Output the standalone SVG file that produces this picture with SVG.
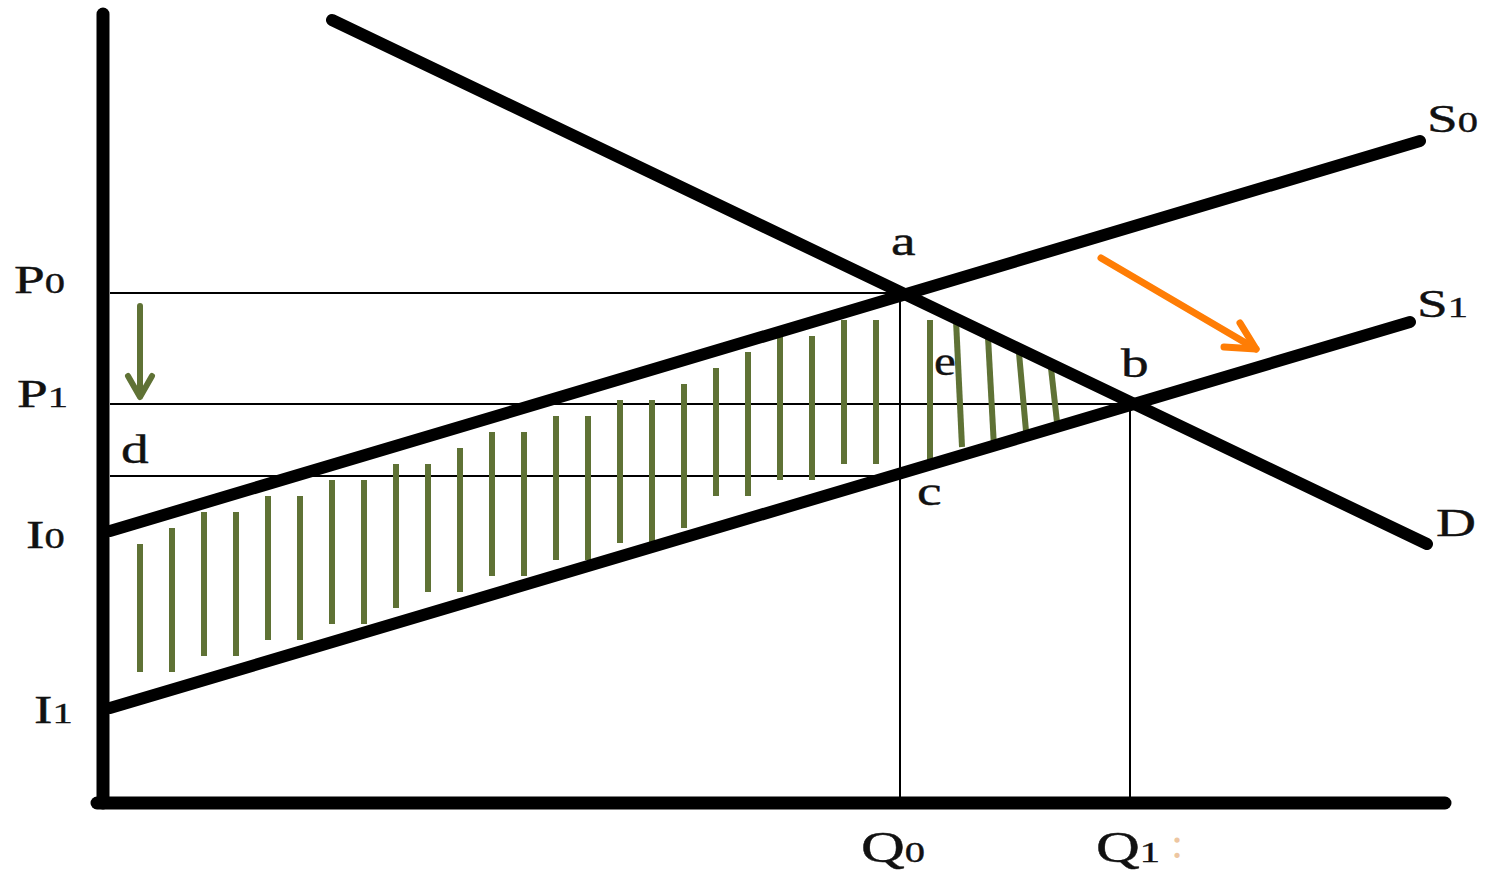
<svg xmlns="http://www.w3.org/2000/svg" width="1487" height="870" viewBox="0 0 1487 870">
<style>
.axis{stroke:#000;stroke-width:13;stroke-linecap:round;fill:none}
.curve{stroke:#000;stroke-width:12;stroke-linecap:round;fill:none}
.thin{stroke:#000;stroke-width:2;fill:none}
.hatch{stroke:#5f7235;stroke-width:6;fill:none}
.lbl{font-family:"Liberation Serif","Times New Roman",serif;font-size:41px;fill:#111;stroke:#111;stroke-width:0.4}
.sub{font-size:30px}
.big{font-size:45px}
</style>
<rect width="1487" height="870" fill="#fff"/>
<g id="guides">
<line class="thin" x1="110" y1="293" x2="900" y2="293"/>
<line class="thin" x1="110" y1="404" x2="1130" y2="404"/>
<line class="thin" x1="110" y1="476" x2="900" y2="476"/>
<line class="thin" x1="900" y1="293" x2="900" y2="803"/>
<line class="thin" x1="1130" y1="404" x2="1130" y2="803"/>
</g>
<g id="hatching">
<line class="hatch" x1="140" y1="544" x2="140" y2="672"/>
<line class="hatch" x1="172" y1="528" x2="172" y2="672"/>
<line class="hatch" x1="204" y1="512" x2="204" y2="656"/>
<line class="hatch" x1="236" y1="512" x2="236" y2="656"/>
<line class="hatch" x1="268" y1="496" x2="268" y2="640"/>
<line class="hatch" x1="300" y1="496" x2="300" y2="640"/>
<line class="hatch" x1="332" y1="480" x2="332" y2="624"/>
<line class="hatch" x1="364" y1="480" x2="364" y2="624"/>
<line class="hatch" x1="396" y1="464" x2="396" y2="608"/>
<line class="hatch" x1="428" y1="464" x2="428" y2="592"/>
<line class="hatch" x1="460" y1="448" x2="460" y2="592"/>
<line class="hatch" x1="492" y1="432" x2="492" y2="576"/>
<line class="hatch" x1="524" y1="432" x2="524" y2="576"/>
<line class="hatch" x1="556" y1="416" x2="556" y2="560"/>
<line class="hatch" x1="588" y1="416" x2="588" y2="560"/>
<line class="hatch" x1="620" y1="400" x2="620" y2="543"/>
<line class="hatch" x1="652" y1="400" x2="652" y2="543"/>
<line class="hatch" x1="684" y1="384" x2="684" y2="528"/>
<line class="hatch" x1="716" y1="368" x2="716" y2="496"/>
<line class="hatch" x1="748" y1="352" x2="748" y2="496"/>
<line class="hatch" x1="780" y1="336" x2="780" y2="480"/>
<line class="hatch" x1="812" y1="336" x2="812" y2="480"/>
<line class="hatch" x1="844" y1="320" x2="844" y2="464"/>
<line class="hatch" x1="876" y1="320" x2="876" y2="464"/>
<line class="hatch" x1="930" y1="320" x2="930" y2="464"/>
<line class="hatch" x1="956" y1="320" x2="962" y2="447"/>
<line class="hatch" x1="988" y1="337" x2="994" y2="447"/>
<line class="hatch" x1="1019" y1="353" x2="1026" y2="431"/>
<line class="hatch" x1="1051" y1="368" x2="1058" y2="431"/>
</g>
<g id="axes">
<line class="axis" x1="103" y1="14" x2="103" y2="803"/>
<line class="axis" x1="97" y1="803" x2="1445" y2="803"/>
</g>
<g id="demand-D">
<line class="curve" x1="332" y1="20" x2="1427" y2="544"/>
</g>
<g id="supply-S0">
<line class="curve" x1="110" y1="531" x2="1420" y2="141"/>
</g>
<g id="supply-S1">
<line class="curve" x1="110" y1="708" x2="1410" y2="322"/>
</g>
<g id="connectors">
<g id="green-arrow" stroke="#5f7235" stroke-width="6" fill="none" stroke-linecap="round" stroke-linejoin="round">
<line x1="140" y1="306" x2="140" y2="396"/>
<polyline points="128,376 140,397 152,376"/>
</g>
<g id="orange-arrow" stroke="#ff7d05" stroke-width="7" fill="none" stroke-linecap="round" stroke-linejoin="round">
<line x1="1101" y1="258" x2="1256" y2="349"/>
<polyline points="1240,323 1256,349 1224,347"/>
</g>
</g>
<g id="label-P0"><text class="lbl" transform="translate(14 293) scale(1.35 1)">P<tspan class="sub">0</tspan></text></g>
<g id="label-P1"><text class="lbl" transform="translate(17 407) scale(1.35 1)">P<tspan class="sub">1</tspan></text></g>
<g id="label-d"><text class="lbl" transform="translate(121 463) scale(1.35 1)">d</text></g>
<g id="label-I0"><text class="lbl" transform="translate(26 548) scale(1.35 1)">I<tspan class="sub">0</tspan></text></g>
<g id="label-I1"><text class="lbl" transform="translate(34 723) scale(1.35 1)">I<tspan class="sub">1</tspan></text></g>
<g id="label-a"><text class="lbl" transform="translate(891 255) scale(1.35 1)">a</text></g>
<g id="label-e"><text class="lbl" transform="translate(934 375) scale(1.2 1)">e</text></g>
<g id="label-b"><text class="lbl" transform="translate(1121 377) scale(1.35 1)">b</text></g>
<g id="label-c"><text class="lbl" transform="translate(917 505) scale(1.35 1)">c</text></g>
<g id="label-Q0"><text class="lbl big" transform="translate(861 862) scale(1.35 1)">Q<tspan class="sub">0</tspan></text></g>
<g id="label-Q1"><text class="lbl big" transform="translate(1096 862) scale(1.35 1)">Q<tspan class="sub">1</tspan></text><text x="1171" y="858" font-family="Liberation Serif, serif" font-size="44" fill="#e9b88a" opacity="0.8">:</text></g>
<g id="label-S0"><text class="lbl" transform="translate(1427 132) scale(1.35 1)">S<tspan class="sub">0</tspan></text></g>
<g id="label-S1"><text class="lbl" transform="translate(1417 317) scale(1.35 1)">S<tspan class="sub">1</tspan></text></g>
<g id="label-D"><text class="lbl" transform="translate(1436 536) scale(1.35 1)">D</text></g>
</svg>
